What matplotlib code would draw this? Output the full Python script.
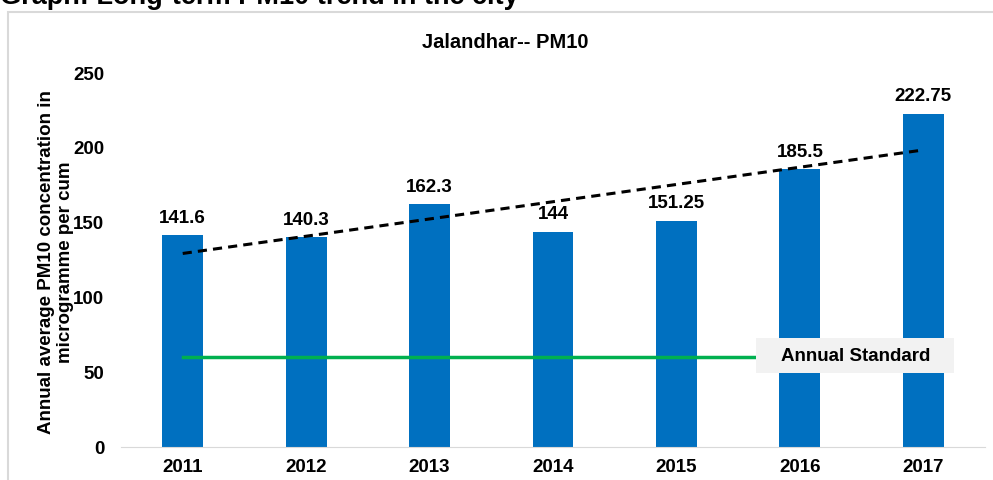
import numpy as np
import matplotlib.pyplot as plt
from matplotlib.patches import Rectangle

plt.rcParams['font.family'] = ['Liberation Sans', 'DejaVu Sans']
plt.rcParams['font.weight'] = 'bold'

years = ['2011', '2012', '2013', '2014', '2015', '2016', '2017']
pm10 = [141.6, 140.3, 162.3, 144, 151.25, 185.5, 222.75]
labels = ['141.6', '140.3', '162.3', '144', '151.25', '185.5', '222.75']
standard = [60] * 7

fig = plt.figure(figsize=(9.93, 4.8), dpi=100)
ax = fig.add_axes([121 / 993, 1 - 447 / 480, (985 - 121) / 993, (447 - 73) / 480])

x = np.arange(len(years))
ax.bar(x, pm10, width=0.33, color='#0070C0', zorder=2)
for xi, v, lab in zip(x, pm10, labels):
    ax.annotate(lab, (xi, v), xytext=(0, 6), textcoords='offset points',
                ha='center', va='bottom', fontsize=13.5, fontweight='bold')

# linear trend
k, b = np.polyfit(x, pm10, 1)
ax.plot(x, k * x + b, color='black', linestyle=(0, (3, 2)), lw=2.2, zorder=3)

ax.plot(x, standard, color='#00B050', lw=2.5, zorder=3)
ax.add_patch(Rectangle((4.643, 49.5), 1.605, 23.4, facecolor='#F2F2F2',
                       edgecolor='none', zorder=4))
ax.text(5.45, 60.5, 'Annual Standard', ha='center', va='center',
        fontsize=13.5, fontweight='bold', zorder=5)

ax.set_xlim(-0.5, 6.5)
ax.set_ylim(0, 250)
ax.set_yticks([0, 50, 100, 150, 200, 250])
ax.set_xticks(x)
ax.set_xticklabels(years)
ax.tick_params(axis='y', length=0, labelsize=13.5, pad=12)
ax.tick_params(axis='x', length=0, labelsize=13.5, pad=9)
for s in ['top', 'right', 'left']:
    ax.spines[s].set_visible(False)
ax.spines['bottom'].set_color('#D9D9D9')
ax.set_ylabel('Annual average PM10 concentration in\nmicrogramme per cum',
              fontsize=13.5, fontweight='bold')
ax.yaxis.set_label_coords(-0.054, 0.495)

fig.text(505 / 993, 1 - 42 / 480, 'Jalandhar-- PM10', ha='center', va='center',
         fontsize=14.5, fontweight='bold')
fig.text(0.0, 1 - 4 / 480, 'Graph: Long-term PM10 trend in the city',
         ha='left', va='baseline', fontsize=19.5, fontweight='bold')
fig.add_artist(Rectangle((8 / 993, -0.1), 1.1, 1 - 12 / 480 + 0.1,
                         transform=fig.transFigure, facecolor='none',
                         edgecolor='#D9D9D9', lw=1.5))

fig.savefig('out.png', dpi=100)
